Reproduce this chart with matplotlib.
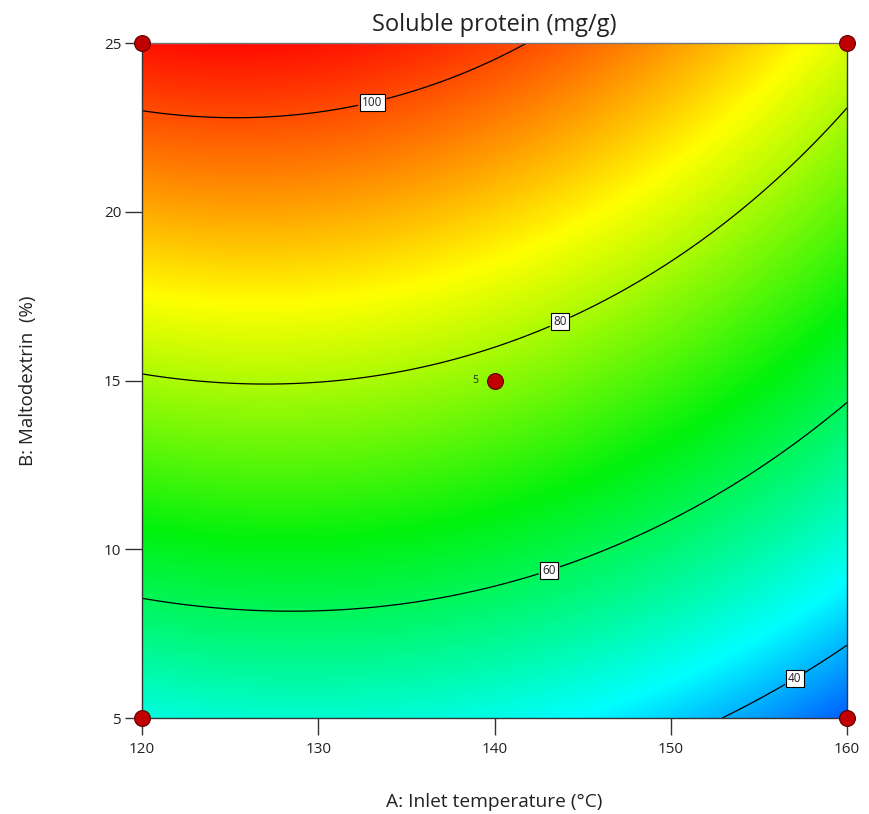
import numpy as np
import matplotlib
matplotlib.use("Agg")
import matplotlib.pyplot as plt
from matplotlib.colors import LinearSegmentedColormap

# ---- data ----
title = "Soluble protein (mg/g)"
x_label = "A: Inlet temperature (°C)"
y_label = "B: Maltodextrin  (%)"
x_ticks = [120, 130, 140, 150, 160]
y_ticks = [5, 10, 15, 20, 25]
# quadratic model in coded units: b0, A, B, AB, A^2, B^2
coef = [77.4, -8.9, 26.68, -1.48, -6.85, -3.07]
contour_levels = [40, 60, 80, 100]
label_pos = [(157, 6.2), (143, 9.55), (143.5, 17.0), (133, 23.4)]
design_x = [120, 120, 160, 160, 140]
design_y = [5, 25, 5, 25, 15]
center_label = "5"

plt.rcParams['font.family'] = ['Open Sans', 'DejaVu Sans']

fig = plt.figure(figsize=(8.69, 8.14), dpi=100)
ax = fig.add_axes([142/869, 1-718/814, (847-142)/869, (718-43)/814])

T = np.linspace(120, 160, 400)
B = np.linspace(5, 25, 400)
TT, BB = np.meshgrid(T, B)
x1 = (TT - 140) / 20
x2 = (BB - 15) / 10
Z = (coef[0] + coef[1]*x1 + coef[2]*x2 + coef[3]*x1*x2
     + coef[4]*x1**2 + coef[5]*x2**2)

vmin, vmax = 30, 106
def n(v):
    return (v - vmin) / (vmax - vmin)
cmap = LinearSegmentedColormap.from_list("de", [
    (0.0, (0.0, 0.2, 1.0)),
    (n(45.5), (0.0, 1.0, 1.0)),
    (n(66.5), (0.0, 0.95, 0.05)),
    (n(86.5), (1.0, 1.0, 0.0)),
    (1.0, (1.0, 0.0, 0.0)),
])
ax.imshow(Z, origin='lower', extent=[120, 160, 5, 25], aspect='auto',
          cmap=cmap, vmin=vmin, vmax=vmax, interpolation='bilinear')
cs = ax.contour(TT, BB, Z, levels=contour_levels, colors='black', linewidths=0.9)
labels = ax.clabel(cs, fmt='%d', fontsize=9, manual=label_pos, inline=True,
                   inline_spacing=4)
for t in labels:
    t.set_fontsize(8.5)
    t.set_color('#222222')
    t.set_bbox(dict(facecolor='white', edgecolor='black', linewidth=0.8, pad=1.5))
    t.set_rotation(0)

ax.scatter(design_x, design_y, s=130, facecolor='#c00000', edgecolor='#5a0000',
           linewidth=0.8, zorder=5, clip_on=False)
ax.text(139.1, 15, center_label, fontsize=7.5, ha='right', va='center', color='#222222')

ax.set_xlim(120, 160)
ax.set_ylim(5, 25)
ax.set_xticks(x_ticks)
ax.set_yticks(y_ticks)
ax.tick_params(direction='out', length=12, width=1, labelsize=11, color='#333333',
               labelcolor='#222222')
ax.tick_params(axis='x', pad=5)
ax.tick_params(axis='y', pad=3)
for s in ax.spines.values():
    s.set_color('#333333')
    s.set_linewidth(1)
ax.spines['top'].set_color('#777777')
ax.set_title(title, fontsize=17, pad=9, color='#222222')
ax.set_xlabel(x_label, fontsize=13.8, labelpad=26, color='#222222')
ax.set_ylabel(y_label, fontsize=13.5, labelpad=48, color='#222222')

fig.savefig("out.png", dpi=100)
